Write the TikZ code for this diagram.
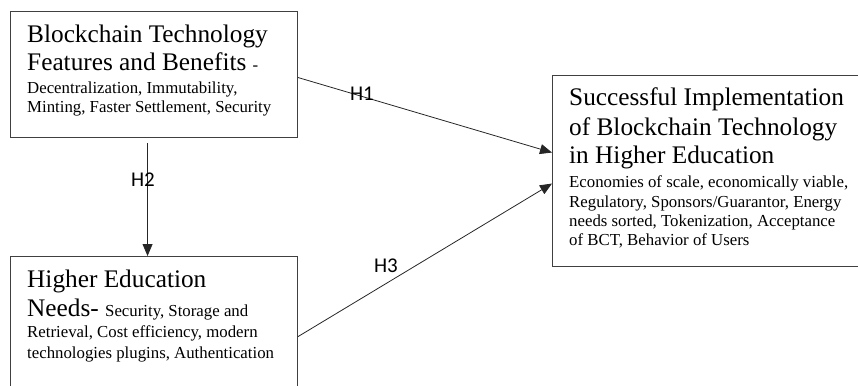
\documentclass[tikz,border=0pt]{standalone}
\usepackage{fontspec}
\setmainfont{Liberation Serif}
\newfontfamily\labfont{Carlito}
\usetikzlibrary{arrows.meta}
\begin{document}
\begin{tikzpicture}[x=1pt,y=-1pt,
  box/.style={draw=black!75,line width=1.1pt,anchor=north west,inner sep=0pt,fill=none},
  big/.style={anchor=base west,inner sep=0pt,font=\fontsize{25.3}{28}\selectfont},
  sml/.style={anchor=base west,inner sep=0pt,font=\fontsize{16.8}{19}\selectfont},
  hlab/.style={inner sep=0pt,font=\labfont\fontsize{21}{24}\selectfont},
  conn/.style={draw=black!85,line width=0.8pt,-{Triangle[length=12pt,width=10pt]}}]
\useasboundingbox (0,0) rectangle (858,385);
% boxes
\node[box,minimum width=287pt,minimum height=126pt] (b1) at (10,11) {};
\node[box,minimum width=287pt,minimum height=139pt] (b2) at (10,256) {};
\node[box,minimum width=310pt,minimum height=191pt] (b3) at (552,75) {};
% box 1 text
\node[big] (t11) at (27,43) {Blockchain Technology};
\node[big] (t12) at (27,71) {Features and Benefits {\fontsize{16.8}{19}\selectfont -}};
\node[sml] (t13) at (27,94) {Decentralization, Immutability,};
\node[sml] (t14) at (27,113) {Minting, Faster Settlement, Security};
% box 2 text
\node[big] (t21) at (27,287) {Higher Education};
\node[big] (t22) at (27,316) {Needs- {\fontsize{16.8}{19}\selectfont Security, Storage and}};
\node[sml] (t23) at (27,337.5) {Retrieval, Cost efficiency, modern};
\node[sml] (t24) at (27,358) {technologies plugins, Authentication};
% box 3 text
\node[big] (t31) at (569,106) {Successful Implementation};
\node[big] (t32) at (569,135) {of Blockchain Technology};
\node[big] (t33) at (569,163) {in Higher Education};
\node[sml] (t34) at (569,187) {Economies of scale, economically viable,};
\node[sml] (t35) at (569,207) {Regulatory, Sponsors/Guarantor, Energy};
\node[sml] (t36) at (569,226.5) {needs sorted, Tokenization, Acceptance};
\node[sml] (t37) at (569,245.5) {of BCT, Behavior of Users};
% connectors
\draw[conn] ([yshift=-3pt]b1.east) -- ([yshift=18.5pt]b3.west);
\draw[conn] ([yshift=-10.5pt]b2.east) -- ([yshift=-12.5pt]b3.west);
\draw[conn,shorten <=5pt] ([xshift=-6.5pt]b1.south) -- ([xshift=-6.5pt]b2.north);
% labels
\node[hlab] (h1) at (362,94) {H1};
\node[hlab] (h2) at (143,180) {H2};
\node[hlab] (h3) at (386,266) {H3};
\end{tikzpicture}
\end{document}
